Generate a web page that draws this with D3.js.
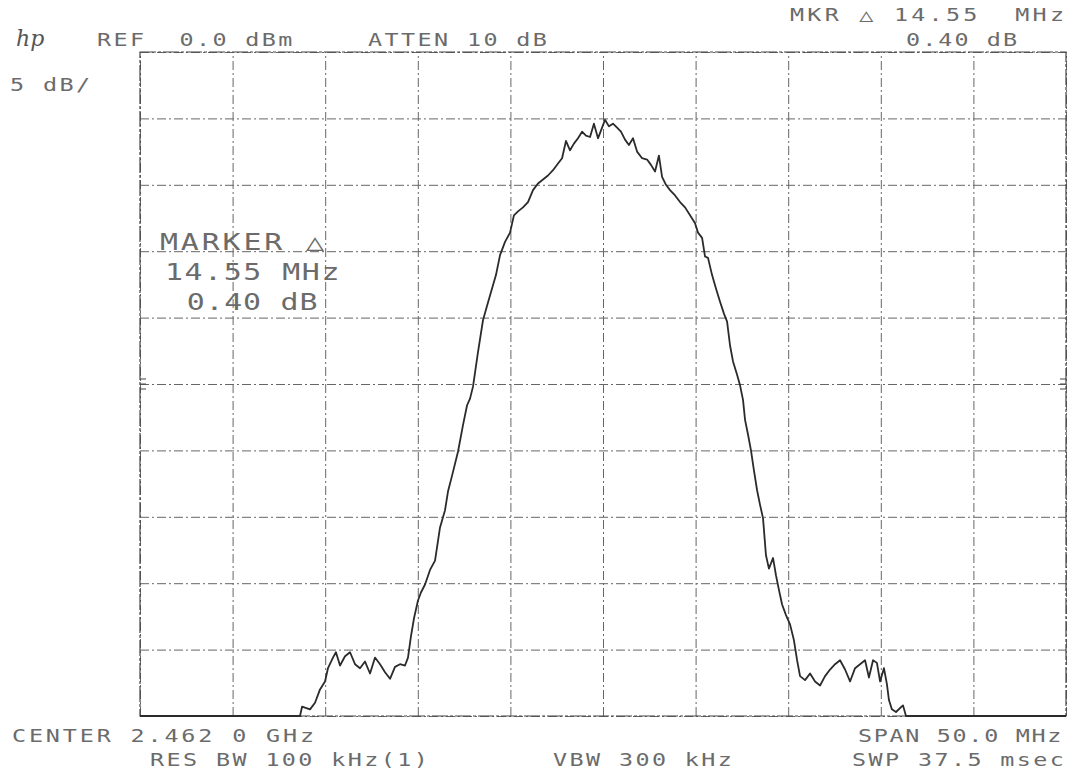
<!DOCTYPE html>
<html>
<head>
<meta charset="utf-8">
<script src="https://cdnjs.cloudflare.com/ajax/libs/d3/7.8.5/d3.min.js"></script>
<style>
  body { margin: 0; background: #fff; }
  svg { display: block; }
  .lbl { font-family: "DejaVu Sans Mono", monospace; fill: #6b6b6b; }
</style>
</head>
<body>
<script>
// Trace: frequency offset from center (MHz) and level (dBm)
const freqOffset = [
  -25, -16.36, -16.25, -15.82, -15.55, -15.28, -15.01, -14.85, -14.58, -14.42,
  -14.20, -13.93, -13.66, -13.39, -13.12, -12.85, -12.58, -12.31, -12.04, -11.77,
  -11.50, -11.23, -10.96, -10.69, -10.53, -10.37, -10.20, -9.99, -9.83, -9.61,
  -9.34, -9.07, -8.80, -8.53, -8.37, -8.15, -7.83, -7.56, -7.34, -7.18,
  -7.02, -6.75, -6.48, -6.26, -6.05, -5.78, -5.56, -5.29, -5.02, -4.81,
  -4.59, -4.32, -4.05, -3.78, -3.51, -3.24, -2.97, -2.70, -2.43, -2.21,
  -2.00, -1.78, -1.57, -1.35, -1.13, -0.92, -0.70, -0.49, -0.27, -0.05,
  0.11, 0.32, 0.54, 0.76, 0.97, 1.19, 1.40, 1.62, 1.84, 2.11,
  2.38, 2.59, 2.81, 3.02, 3.19, 3.40, 3.62, 3.89, 4.16, 4.43,
  4.70, 4.97, 5.13, 5.35, 5.51, 5.67, 5.89, 6.10, 6.32, 6.53,
  6.70, 6.86, 7.02, 7.24, 7.40, 7.56, 7.67, 7.83, 7.99, 8.15,
  8.32, 8.48, 8.64, 8.80, 8.96, 9.18, 9.34, 9.50, 9.67, 9.88,
  10.10, 10.31, 10.48, 10.64, 10.91, 11.18, 11.45, 11.72, 11.99, 12.26,
  12.53, 12.80, 13.07, 13.34, 13.61, 13.88, 14.15, 14.36, 14.58, 14.79,
  14.96, 15.17, 15.33, 15.44, 15.60, 15.82, 16.04, 16.20, 16.36, 25
];
const levelDbm = [
  -50, -50, -49.3, -49.5, -49.0, -48.0, -47.4, -46.4, -45.6, -45.2,
  -46.2, -45.5, -45.2, -46.1, -46.4, -45.9, -46.8, -45.6, -46.1, -46.7,
  -47.2, -46.3, -46.1, -46.2, -45.6, -44.0, -42.6, -41.3, -40.7, -40.1,
  -39.0, -38.3, -35.8, -34.5, -33.1, -31.9, -30.1, -28.1, -26.6, -26.1,
  -25.2, -22.6, -20.2, -19.1, -18.1, -16.8, -15.3, -14.3, -13.6, -12.3,
  -12.0, -11.7, -11.3, -10.4, -9.9, -9.6, -9.3, -8.9, -8.4, -8.0,
  -6.7, -7.4, -6.9, -6.5, -6.0, -6.3, -6.4, -5.4, -6.5, -5.7,
  -5.1, -5.6, -5.4, -5.7, -6.0, -6.6, -7.0, -6.5, -7.5, -8.0,
  -8.1, -8.5, -9.0, -7.8, -9.4, -10.0, -10.4, -10.8, -11.3, -11.7,
  -12.3, -12.9, -13.6, -14.0, -15.4, -15.5, -16.8, -17.8, -18.8, -19.7,
  -20.3, -22.1, -23.3, -24.3, -25.1, -26.2, -27.7, -28.8, -30.0, -31.5,
  -33.0, -34.1, -35.1, -37.9, -38.9, -38.1, -39.4, -40.5, -41.6, -42.4,
  -43.1, -44.3, -45.8, -47.0, -47.3, -46.8, -47.4, -47.7, -47.0, -46.5,
  -46.1, -45.8, -46.5, -47.4, -46.4, -46.1, -45.8, -47.1, -45.8, -46.0,
  -47.4, -46.4, -47.6, -48.8, -49.5, -49.7, -49.4, -49.2, -50, -50
];

// Graticule: 5 MHz/div and 5 dB/div
const freqGrid = [-25, -20, -15, -10, -5, 0, 5, 10, 15, 20, 25];
const levelGrid = [0, -5, -10, -15, -20, -25, -30, -35, -40, -45, -50];

// Annotation texts
const headerTexts = ["REF  0.0 dBm", "ATTEN 10 dB", "MKR \u25B3 14.55  MHz", "0.40 dB", "5 dB/"];
const markerTexts = ["MARKER \u25B3", "14.55 MHz", " 0.40 dB"];
const footerTexts = ["CENTER 2.462 0 GHz", "SPAN 50.0 MHz", "RES BW 100 kHz(1)", "VBW 300 kHz", "SWP 37.5 msec"];

const W = 1074, H = 771;
const plot = { left: 140, top: 52, right: 1066, bottom: 716 };

const svg = d3.select("body").append("svg")
  .attr("width", W)
  .attr("height", H);

const x = d3.scaleLinear().domain([-25, 25]).range([plot.left, plot.right]);
const y = d3.scaleLinear().domain([-50, 0]).range([plot.bottom, plot.top]);

// grid lines through the axes
const gx = svg.append("g")
  .attr("transform", `translate(0,${plot.bottom})`)
  .call(d3.axisBottom(x).tickValues(freqGrid).tickSize(-(plot.bottom - plot.top)).tickFormat(""));
const gy = svg.append("g")
  .attr("transform", `translate(${plot.left},0)`)
  .call(d3.axisLeft(y).tickValues(levelGrid).tickSize(-(plot.right - plot.left)).tickFormat(""));

[gx, gy].forEach(g => {
  g.select(".domain").remove();
  g.selectAll(".tick line")
    .attr("stroke", "#666")
    .attr("stroke-width", 1)
    .attr("stroke-dasharray", "9,3,2,3");
});

// frame
svg.append("rect")
  .attr("x", plot.left).attr("y", plot.top)
  .attr("width", plot.right - plot.left)
  .attr("height", plot.bottom - plot.top)
  .attr("fill", "none")
  .attr("stroke", "#444")
  .attr("stroke-width", 1.2)
  .attr("stroke-dasharray", "16,2,3,2");

// center reference ticks on the frame
[-1, 0, 1].forEach(k => {
  svg.append("line")
    .attr("x1", plot.left).attr("x2", plot.left + 6)
    .attr("y1", y(-25) + k * 5).attr("y2", y(-25) + k * 5)
    .attr("stroke", "#444");
  svg.append("line")
    .attr("x1", plot.right - 6).attr("x2", plot.right)
    .attr("y1", y(-25) + k * 5).attr("y2", y(-25) + k * 5)
    .attr("stroke", "#444");
});

// the trace
const points = freqOffset.map((f, i) => [f, levelDbm[i]]);
svg.append("path")
  .datum(points)
  .attr("fill", "none")
  .attr("stroke", "#2b2b2b")
  .attr("stroke-width", 1.8)
  .attr("stroke-linejoin", "round")
  .attr("d", d3.line().x(d => x(d[0])).y(d => y(d[1])));

// labels, stretched horizontally like the plotter font
function label(txt, px, py, size, spacing, sx) {
  svg.append("text")
    .attr("class", "lbl")
    .attr("transform", `translate(${px},${py}) scale(${sx},1)`)
    .attr("font-size", size)
    .attr("letter-spacing", spacing)
    .attr("xml:space", "preserve")
    .style("white-space", "pre")
    .text(txt);
}

// hp logo
svg.append("text")
  .attr("x", 16).attr("y", 46)
  .attr("font-family", "DejaVu Serif")
  .attr("font-style", "italic")
  .attr("font-size", 22)
  .attr("fill", "#555")
  .text("hp");

label(headerTexts[0], 97, 46, 18, 1.85, 1.3);
label(headerTexts[1], 368, 46, 18, 1.85, 1.3);
label(headerTexts[2], 790, 21, 18, 2.5, 1.3);
label(headerTexts[3], 906, 46, 18, 1.6, 1.3);
label(headerTexts[4], 10, 91, 18, 1.85, 1.3);

label(markerTexts[0], 160, 250, 23, 2.2, 1.3);
label(markerTexts[1], 165, 280, 23, 1.2, 1.3);
label(markerTexts[2], 168, 310, 23, 0.6, 1.3);

label(footerTexts[0], 12, 742, 18, 2.2, 1.3);
label(footerTexts[1], 858, 742, 18, 1.3, 1.3);
label(footerTexts[2], 150, 766, 18, 1.85, 1.3);
label(footerTexts[3], 553, 766, 18, 1.85, 1.3);
label(footerTexts[4], 852, 766, 18, 1.85, 1.3);
</script>
</body>
</html>
